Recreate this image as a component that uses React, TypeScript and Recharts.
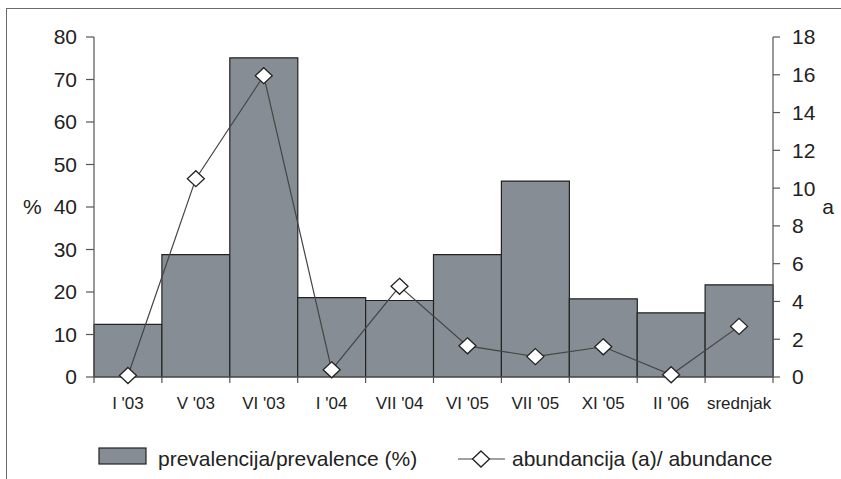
import React from 'react';
import { ComposedChart, Bar, Line, XAxis, YAxis } from 'recharts';

const categories = ["I '03", "V '03", "VI '03", "I '04", "VII '04", "VI '05", "VII '05", "XI '05", "II '06", 'srednjak'];
const prevalence = [12.4, 28.8, 75.1, 18.7, 18.0, 28.8, 46.1, 18.4, 15.1, 21.7];
const abundance = [0.08, 10.5, 15.95, 0.38, 4.8, 1.65, 1.08, 1.6, 0.12, 2.68];
const leftTicks = [0, 10, 20, 30, 40, 50, 60, 70, 80];
const rightTicks = [0, 2, 4, 6, 8, 10, 12, 14, 16, 18];

const data = categories.map((c, i) => ({ name: c, prev: prevalence[i], ab: abundance[i] }));

const FONT = '"Liberation Sans", Arial, Helvetica, sans-serif';
const BAR_FILL = '#868d94';
const DARK = '#222';
const AXIS = '#555';
const TICK_MARGIN = 21;
const TICK_LEN = 6;

const Diamond = (props: any) => {
  const { cx, cy } = props;
  if (cx == null || cy == null) return null;
  const w = 8.5;
  const h = 8;
  return (
    <polygon
      points={`${cx},${cy - h} ${cx + w},${cy} ${cx},${cy + h} ${cx - w},${cy}`}
      fill="#fff"
      stroke={DARK}
      strokeWidth={1.3}
    />
  );
};

const CatTick = (props: any) => {
  const { x, y, payload, index, visibleTicksCount } = props;
  const half = payload && payload.offset != null ? payload.offset : 0;
  const axisY = y - TICK_MARGIN;
  const isLast = visibleTicksCount != null ? index === visibleTicksCount - 1 : payload.index === categories.length - 1;
  return (
    <g>
      <line x1={x - half} y1={axisY} x2={x - half} y2={axisY + TICK_LEN} stroke={AXIS} strokeWidth={1.2} />
      {isLast && <line x1={x + half} y1={axisY} x2={x + half} y2={axisY + TICK_LEN} stroke={AXIS} strokeWidth={1.2} />}
      <text x={x} y={y - 1} dy="0.71em" textAnchor="middle" fill={DARK} fontSize={17} fontFamily={FONT}>
        {payload.value}
      </text>
    </g>
  );
};

export default function App() {
  return (
    <div style={{ position: 'absolute', left: 0, top: 0, width: 841, height: 479, overflow: 'hidden', background: '#fff', fontFamily: FONT }}>
      <div style={{ position: 'absolute', left: 6, top: 8, width: 1000, height: 1000, borderTop: '1.5px solid #6a6a6a', borderLeft: '1.5px solid #6a6a6a' }} />
      <div style={{ position: 'absolute', left: 0, top: 0 }}>
        <ComposedChart width={841} height={479} data={data} margin={{ top: 37, right: 0, left: 0, bottom: 0 }} barCategoryGap={0} barGap={0}>
          <XAxis
            dataKey="name"
            height={102}
            axisLine={{ stroke: AXIS, strokeWidth: 1.2 }}
            tickLine={false}
            tickSize={0}
            tickMargin={TICK_MARGIN}
            interval={0}
            tick={<CatTick />}
          />
          <YAxis
            yAxisId="left"
            domain={[0, 80]}
            ticks={leftTicks}
            width={94}
            tickSize={8}
            tickMargin={9}
            axisLine={{ stroke: AXIS, strokeWidth: 1.2 }}
            tickLine={{ stroke: AXIS, strokeWidth: 1.2 }}
            tick={{ fill: DARK, fontSize: 21, fontFamily: FONT }}
            label={{ value: '%', position: 'insideLeft', offset: 23, fill: DARK, fontSize: 21, fontFamily: FONT }}
          />
          <YAxis
            yAxisId="right"
            orientation="right"
            domain={[0, 18]}
            ticks={rightTicks}
            width={68}
            tickSize={7}
            tickMargin={12}
            axisLine={{ stroke: AXIS, strokeWidth: 1.2 }}
            tickLine={{ stroke: AXIS, strokeWidth: 1.2 }}
            tick={{ fill: DARK, fontSize: 21, fontFamily: FONT }}
            label={{ value: 'a', position: 'insideRight', offset: 7, fill: DARK, fontSize: 21, fontFamily: FONT }}
          />
          <Bar yAxisId="left" dataKey="prev" fill={BAR_FILL} stroke={DARK} strokeWidth={1.2} isAnimationActive={false} />
          <Line
            yAxisId="right"
            dataKey="ab"
            type="linear"
            stroke="#444"
            strokeWidth={1.2}
            dot={<Diamond />}
            activeDot={false}
            isAnimationActive={false}
          />
        </ComposedChart>
      </div>
      <svg style={{ position: 'absolute', left: 0, top: 430 }} width={841} height={49}>
        <rect x={99} y={18} width={47} height={16} fill={BAR_FILL} stroke={DARK} strokeWidth={1.2} />
        <text x={158} y={28} dominantBaseline="central" fontSize={21} fontFamily={FONT} fill={DARK}>prevalencija/prevalence (%)</text>
        <line x1={458} y1={29} x2={505} y2={29} stroke="#444" strokeWidth={1.2} />
        <polygon points="481,21 489.5,29 481,37 472.5,29" fill="#fff" stroke={DARK} strokeWidth={1.3} />
        <text x={512} y={28} dominantBaseline="central" fontSize={21} fontFamily={FONT} fill={DARK}>abundancija (a)/ abundance</text>
      </svg>
    </div>
  );
}
